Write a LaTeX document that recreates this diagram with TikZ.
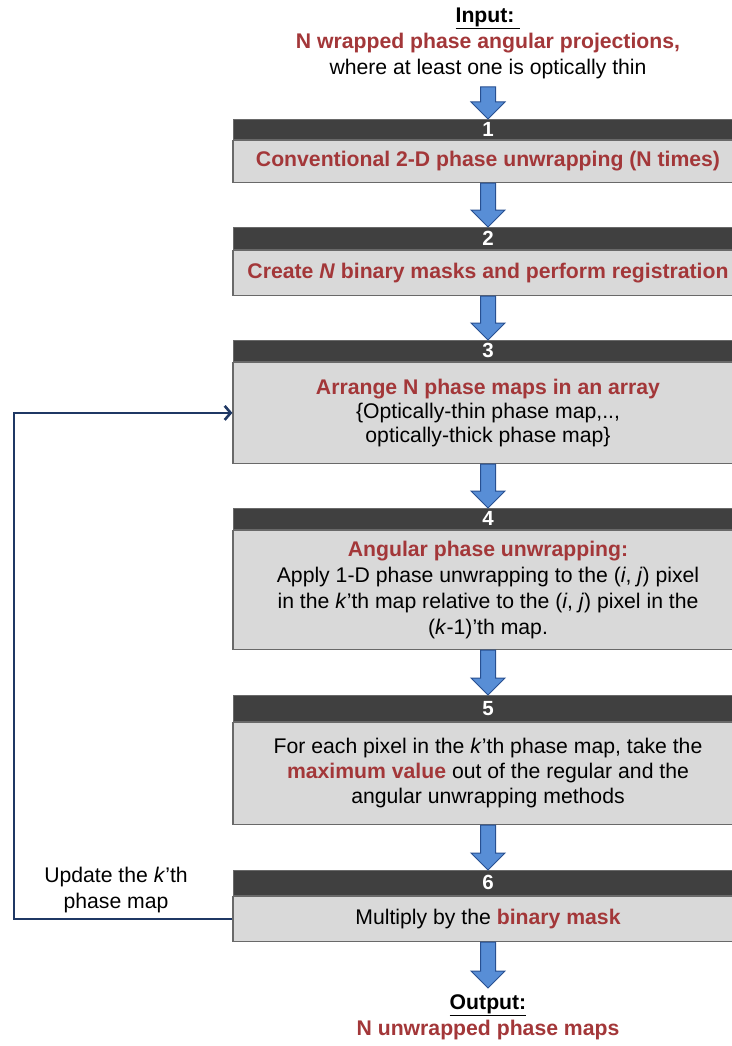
\documentclass[tikz,border=0pt]{standalone}
\usepackage{fontspec}
\setmainfont{Liberation Sans}
\usetikzlibrary{arrows.meta,calc}
\definecolor{dred}{RGB}{163,55,57}
\definecolor{hdrgray}{RGB}{64,64,64}
\definecolor{bodygray}{RGB}{217,217,217}
\definecolor{bordergray}{RGB}{105,105,105}
\definecolor{arrowfill}{RGB}{88,142,214}
\definecolor{arrowedge}{RGB}{40,80,145}
\definecolor{navy}{RGB}{31,56,100}
\tikzset{
  hdr/.style={fill=hdrgray, draw=bordergray, line width=0.8pt, minimum width=510pt, inner sep=0pt, text=white, font=\bfseries\fontsize{20.5}{20.5}\selectfont, anchor=north},
  bodybox/.style={fill=bodygray, draw=bordergray, line width=1.2pt, minimum width=510pt, inner sep=0pt, align=center, anchor=north, font=\fontsize{21.2}{26}\selectfont},
  plain/.style={align=center, inner sep=0pt, font=\fontsize{21.2}{26}\selectfont},
  fb/.style={draw=navy, line width=2.8pt, -{Straight Barb[length=6pt,width=14pt,line width=2.6pt]}},
  blk/.style={draw=arrowedge, fill=arrowfill, line width=1pt, line join=miter}
}
\newcommand\blockarr[2]{%
  \path[blk] let \p1=(#1), \p2=(#2) in
    (\x1-7.5pt,\y1) -- (\x1+7.5pt,\y1) -- (\x1+7.5pt,\y2+17pt) -- (\x1+17pt,\y2+17pt)
    -- (\x1,\y2) -- (\x1-17pt,\y2+17pt) -- (\x1-7.5pt,\y2+17pt) -- cycle;}
\newcommand\rd[1]{\textcolor{dred}{\bfseries #1}}
\begin{document}
\begin{tikzpicture}[x=1pt,y=-1pt]
\useasboundingbox[fill=white] (0,0) rectangle (731,1046);

% input text
\node[plain] (input) at (488,43) {\textbf{\underline{Input:\ }}\\ \rd{N wrapped phase angular projections,}\\ where at least one is optically thin};
\coordinate (inA) at (488,87);

% box 1
\node[hdr, minimum height=20pt] (h1) at (488,119) {1};
\node[bodybox, minimum height=42pt] (b1) at (h1.south) {\rd{Conventional 2-D phase unwrapping (N times)}};
% box 2
\node[hdr, minimum height=22pt] (h2) at (488,227) {2};
\node[bodybox, minimum height=45pt] (b2) at (h2.south) {\rd{Create \textit{N} binary masks and perform registration}};
% box 3
\node[hdr, minimum height=21pt] (h3) at (488,340) {3};
\node[bodybox, minimum height=101pt, font=\fontsize{21.2}{24}\selectfont] (b3) at (h3.south) {\rd{Arrange N phase maps in an array}\\ \{Optically-thin phase map,..,\\ optically-thick phase map\}};
% box 4
\node[hdr, minimum height=21pt] (h4) at (488,508) {4};
\node[bodybox, minimum height=119pt] (b4) at (h4.south) {\rd{Angular phase unwrapping:}\\ Apply 1-D phase unwrapping to the (\textit{i}, \textit{j}) pixel\\ in the \textit{k}’th map relative to the (\textit{i}, \textit{j}) pixel in the\\ (\textit{k}-1)’th map.};
% box 5
\node[hdr, minimum height=26pt] (h5) at (488,695) {5};
\node[bodybox, minimum height=102pt, font=\fontsize{21.2}{25}\selectfont] (b5) at (h5.south) {For each pixel in the \textit{k}’th phase map, take the\\ \rd{maximum value} out of the regular and the\\ angular unwrapping methods};
% box 6
\node[hdr, minimum height=25pt] (h6) at (488,870) {6};
\node[bodybox, minimum height=45pt] (b6) at (h6.south) {Multiply by the \rd{binary mask}};

% output
\coordinate (outA) at (488,988);
\node[plain] (output) at (488,1017) {\textbf{\underline{Output:}}\\ \rd{N unwrapped phase maps}};

% block arrows
\blockarr{inA}{h1.north}
\blockarr{b1.south}{h2.north}
\blockarr{b2.south}{h3.north}
\blockarr{b3.south}{h4.north}
\blockarr{b4.south}{h5.north}
\blockarr{b5.south}{h6.north}
\blockarr{b6.south}{outA}

% feedback loop
\coordinate (fbc) at (14,600);
\draw[fb] (b6.west) -| (fbc) |- (b3.west);
\node[plain] (upd) at (116,890) {Update the \textit{k}’th\\ phase map};
\end{tikzpicture}
\end{document}
